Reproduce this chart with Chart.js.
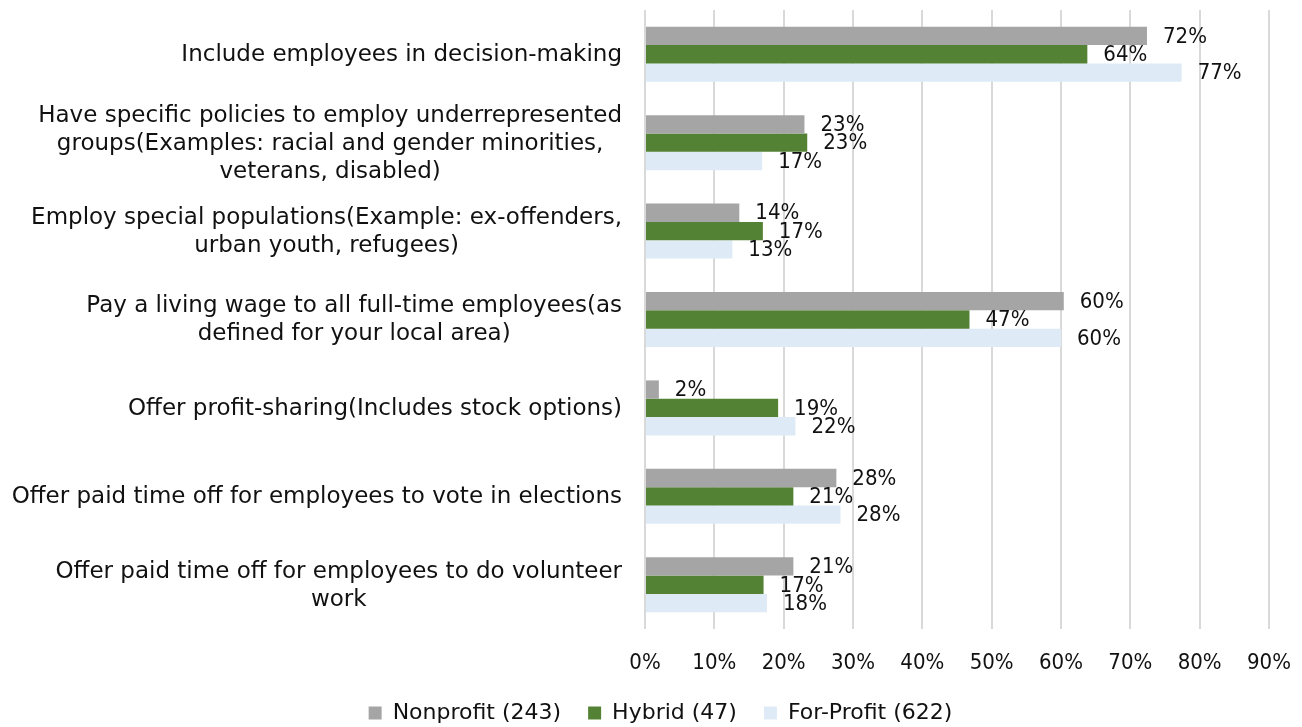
<!DOCTYPE html>
<html>
<head>
<meta charset="utf-8">
<script src="https://cdn.jsdelivr.net/npm/chart.js@4/dist/chart.umd.min.js"></script>
<style>
  html, body { margin: 0; padding: 0; background: #fff; }
  canvas { display: block; }
</style>
</head>
<body>
<canvas id="c" width="1302" height="727"></canvas>
<script>
const categories = [
  ["Include employees in decision-making"],
  ["Have specific policies to employ underrepresented", "groups(Examples: racial and gender minorities,", "veterans, disabled)"],
  ["Employ special populations(Example: ex-offenders,", "urban youth, refugees)"],
  ["Pay a living wage to all full-time employees(as", "defined for your local area)"],
  ["Offer profit-sharing(Includes stock options)"],
  ["Offer paid time off for employees to vote in elections"],
  ["Offer paid time off for employees to do volunteer", "work"]
];
const seriesNames = ["Nonprofit (243)", "Hybrid (47)", "For-Profit (622)"];
const nonprofit = [72.4, 23.0, 13.6, 60.4, 2.0, 27.6, 21.4];
const hybrid    = [63.8, 23.4, 17.0, 46.8, 19.2, 21.4, 17.1];
const forProfit = [77.4, 16.9, 12.6, 60.0, 21.7, 28.2, 17.6];
const xTicks = [0, 10, 20, 30, 40, 50, 60, 70, 80, 90];

const FONT = "'DejaVu Sans', sans-serif";
const NUMFONT = "'DejaVu Sans Condensed', 'DejaVu Sans', sans-serif";
const TEXT = '#111111';

const valueLabels = {
  id: 'valueLabels',
  afterDatasetsDraw(chart) {
    const ctx = chart.ctx;
    ctx.save();
    ctx.font = '22px ' + NUMFONT;
    ctx.fillStyle = TEXT;
    ctx.textAlign = 'left';
    ctx.textBaseline = 'middle';
    chart.data.datasets.forEach((ds, di) => {
      const meta = chart.getDatasetMeta(di);
      meta.data.forEach((el, i) => {
        ctx.fillText(Math.round(ds.data[i]) + '%', el.x + 16, el.y + 1);
      });
    });
    ctx.restore();
  }
};

const catLabels = {
  id: 'catLabels',
  afterDraw(chart) {
    const ctx = chart.ctx;
    const ys = chart.scales.y;
    const rightEdge = chart.chartArea.left - 23;
    const lh = 28;
    ctx.save();
    ctx.font = '23px ' + FONT;
    ctx.fillStyle = TEXT;
    ctx.textAlign = 'center';
    ctx.textBaseline = 'middle';
    categories.forEach((lines, i) => {
      const y = ys.getPixelForTick(i);
      const w = Math.max(...lines.map(l => ctx.measureText(l).width));
      const cx = rightEdge - w / 2;
      const y0 = y - (lines.length - 1) * lh / 2;
      lines.forEach((l, k) => ctx.fillText(l, cx, y0 + k * lh + 1));
    });
    ctx.restore();
  }
};

new Chart(document.getElementById('c'), {
  type: 'bar',
  data: {
    labels: categories,
    datasets: [
      { label: seriesNames[0], data: nonprofit, backgroundColor: '#a5a5a5' },
      { label: seriesNames[1], data: hybrid, backgroundColor: '#548235' },
      { label: seriesNames[2], data: forProfit, backgroundColor: '#deebf7' }
    ]
  },
  options: {
    indexAxis: 'y',
    responsive: false,
    animation: false,
    devicePixelRatio: 1,
    datasets: { bar: { categoryPercentage: 0.622, barPercentage: 1.0 } },
    layout: { padding: { left: 52, right: 33, top: 10, bottom: -7 } },
    scales: {
      x: {
        min: 0, max: 90,
        afterBuildTicks: s => { s.ticks = xTicks.map(v => ({ value: v })); },
        afterFit: s => { s.height = 46; s.paddingLeft = 0; s.paddingRight = 0; },
        grid: { color: '#d9d9d9', lineWidth: 2, drawTicks: false },
        border: { display: false },
        ticks: {
          padding: 21,
          color: TEXT,
          font: { family: NUMFONT, size: 22 },
          callback: v => v + '%'
        }
      },
      y: {
        afterFit: s => { s.width = 593; },
        grid: { display: false },
        border: { display: false },
        ticks: { display: false }
      }
    },
    plugins: {
      legend: {
        position: 'bottom',
        labels: {
          boxWidth: 13, boxHeight: 13, padding: 27,
          color: TEXT,
          font: { family: FONT, size: 22 }
        }
      },
      tooltip: { enabled: false }
    }
  },
  plugins: [valueLabels, catLabels]
});
</script>
</body>
</html>
